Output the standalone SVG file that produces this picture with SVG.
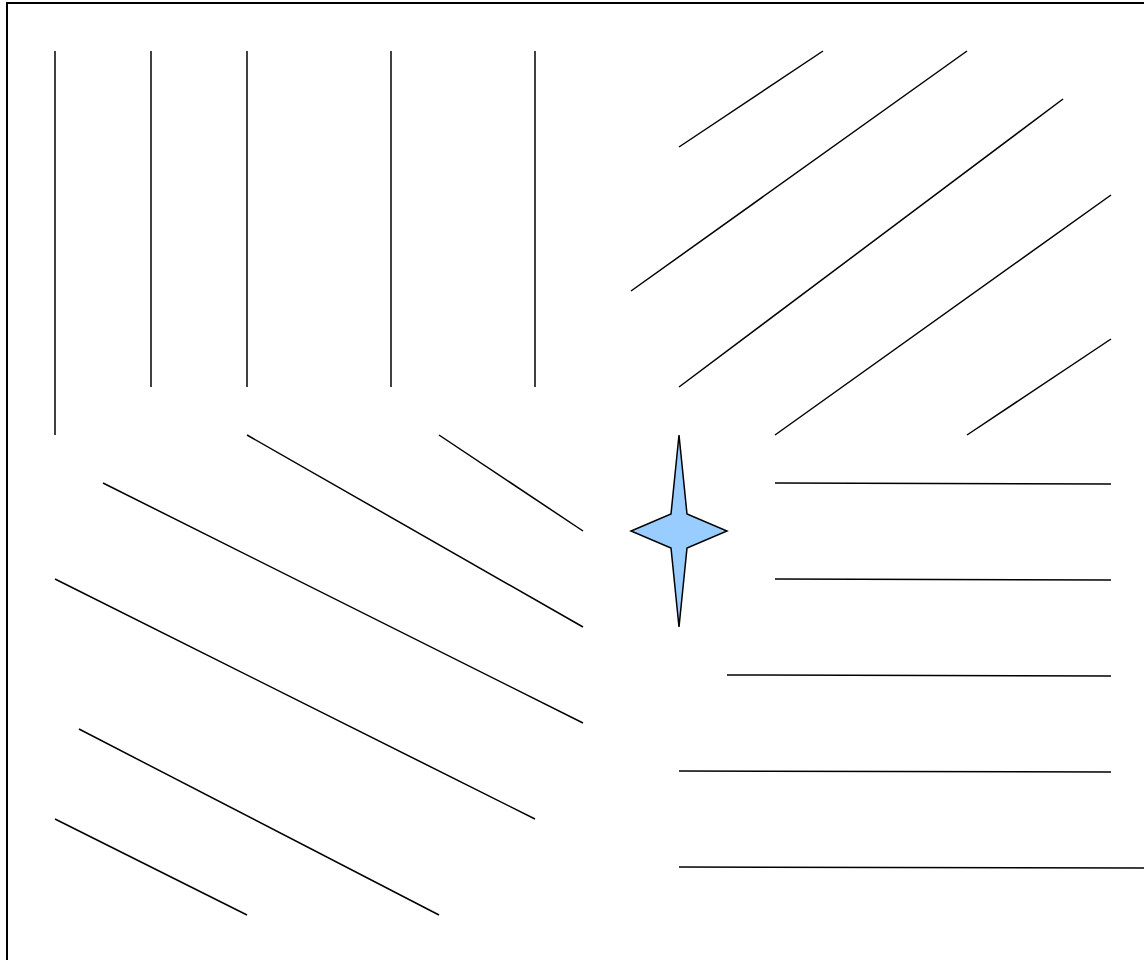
<svg xmlns="http://www.w3.org/2000/svg" width="1144" height="960" viewBox="0 0 1144 960">
<style>
.l{stroke:#000;stroke-width:1.5;fill:none}
</style>
<rect x="0" y="0" width="1144" height="960" fill="#fff"/>
<rect x="7" y="3" width="1200" height="1000" fill="none" stroke="#000" stroke-width="2"/>
<g id="lines">
<line class="l" x1="55" y1="51" x2="55" y2="435"/>
<line class="l" x1="151" y1="51" x2="151" y2="387"/>
<line class="l" x1="247" y1="51" x2="247" y2="387"/>
<line class="l" x1="391" y1="51" x2="391" y2="387"/>
<line class="l" x1="535" y1="51" x2="535" y2="387"/>
<line class="l" x1="679" y1="147" x2="823" y2="51"/>
<line class="l" x1="631" y1="291" x2="967" y2="51"/>
<line class="l" x1="679" y1="387" x2="1063" y2="99"/>
<line class="l" x1="775" y1="435" x2="1111" y2="195"/>
<line class="l" x1="967" y1="435" x2="1111" y2="339"/>
<line class="l" x1="775" y1="483" x2="1111" y2="484"/>
<line class="l" x1="775" y1="579" x2="1111" y2="580"/>
<line class="l" x1="727" y1="675" x2="1111" y2="676"/>
<line class="l" x1="679" y1="771" x2="1111" y2="772"/>
<line class="l" x1="679" y1="867" x2="1144" y2="868"/>
<line class="l" x1="247" y1="435" x2="583" y2="627"/>
<line class="l" x1="439" y1="435" x2="583" y2="531"/>
<line class="l" x1="103" y1="483" x2="583" y2="723"/>
<line class="l" x1="55" y1="579" x2="535" y2="819"/>
<line class="l" x1="79" y1="729" x2="439" y2="915"/>
<line class="l" x1="55" y1="819" x2="247" y2="915"/>
</g>
<g id="star">
<polygon points="679,435 687,514 727,531 687,548 679,627 671,548 631,531 671,514" fill="#99ccff" stroke="#000" stroke-width="1.5"/>
</g>
</svg>
